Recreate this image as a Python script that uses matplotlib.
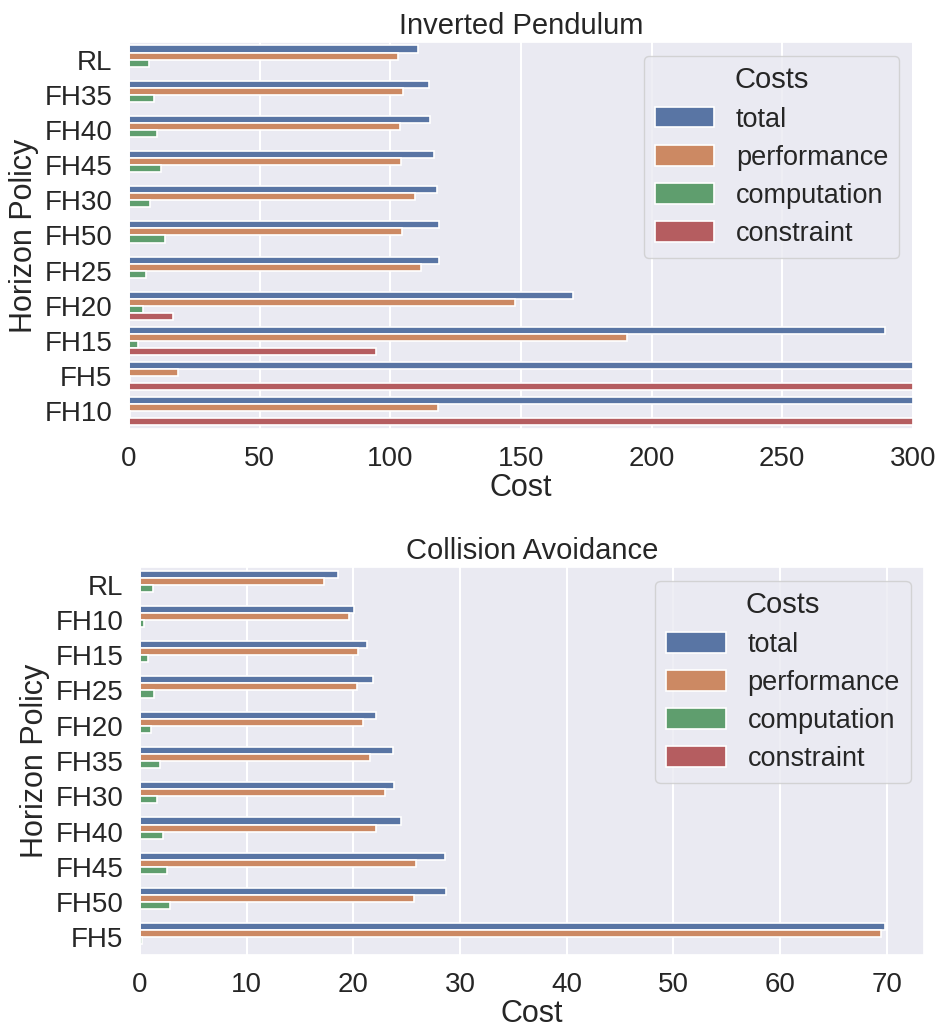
import matplotlib
matplotlib.use("Agg")
import matplotlib.pyplot as plt
import numpy as np
import seaborn as sns

sns.set_theme(style="darkgrid")
plt.rcParams['font.family'] = ['Liberation Sans', 'DejaVu Sans']

cost_types = ["total", "performance", "computation", "constraint"]
colors = ["#5975A4", "#CC8963", "#5F9E6E", "#B55D60"]

# Inverted Pendulum
ip_policies = ["RL", "FH35", "FH40", "FH45", "FH30", "FH50", "FH25", "FH20", "FH15", "FH5", "FH10"]
ip_total = [110.8, 114.7, 115.3, 116.9, 117.9, 118.8, 118.8, 170.1, 289.4, 1200.0, 1200.0]
ip_performance = [102.8, 104.8, 103.8, 104.1, 109.5, 104.6, 111.8, 147.6, 190.5, 18.7, 118.2]
ip_computation = [7.5, 9.5, 10.9, 12.3, 8.1, 13.9, 6.6, 5.2, 3.4, 0.2, 0.3]
ip_constraint = [0.0, 0.0, 0.0, 0.0, 0.0, 0.0, 0.0, 16.7, 94.5, 1100.0, 1100.0]

# Collision Avoidance
ca_policies = ["RL", "FH10", "FH15", "FH25", "FH20", "FH35", "FH30", "FH40", "FH45", "FH50", "FH5"]
ca_total = [18.6, 20.1, 21.3, 21.8, 22.1, 23.7, 23.8, 24.5, 28.6, 28.7, 69.85]
ca_performance = [17.2, 19.55, 20.4, 20.3, 20.9, 21.6, 23.0, 22.1, 25.9, 25.7, 69.5]
ca_computation = [1.24, 0.4, 0.72, 1.31, 1.03, 1.9, 1.59, 2.18, 2.5, 2.8, 0.15]
ca_constraint = [0.0] * 11

fig = plt.figure(figsize=(9.43, 10.31), dpi=100)
ax1 = fig.add_axes([0.1368, 0.5839, 0.968 - 0.1368, 0.9593 - 0.5839])
ax2 = fig.add_axes([0.1485, 0.0737, 0.980 - 0.1485, 0.450 - 0.0737])

def draw(ax, policies, series, title, xlim=None, xticks=None):
    n = len(policies)
    y = np.arange(n)
    h = 0.2
    for i, (name, vals) in enumerate(zip(cost_types, series)):
        ax.barh(y - 0.3 + i * h, vals, height=h, color=colors[i],
                edgecolor="white", linewidth=1.2, label=name)
    ax.set_yticks(y)
    ax.set_yticklabels(policies)
    ax.set_ylim(n - 0.5, -0.5)
    if xlim is not None:
        ax.set_xlim(*xlim)
    if xticks is not None:
        ax.set_xticks(xticks)
    ax.tick_params(axis="both", labelsize=20, pad=6)
    ax.set_title(title, fontsize=21, pad=6)
    ax.set_xlabel("Cost", fontsize=22, labelpad=1)
    ax.set_ylabel("Horizon Policy", fontsize=22, labelpad=4)
    ax.grid(axis="y", visible=False)
    ax.grid(axis="x", color="white", linewidth=1.5)
    ax.legend(title="Costs", fontsize=19.5, title_fontsize=21,
              loc="upper right", handlelength=2.2, handleheight=0.8,
              labelspacing=0.45, borderpad=0.4)

draw(ax1, ip_policies, [ip_total, ip_performance, ip_computation, ip_constraint],
     "Inverted Pendulum", xlim=(0, 300), xticks=[0, 50, 100, 150, 200, 250, 300])
draw(ax2, ca_policies, [ca_total, ca_performance, ca_computation, ca_constraint],
     "Collision Avoidance", xlim=(0, 73.5), xticks=[0, 10, 20, 30, 40, 50, 60, 70])

fig.savefig("out.png", dpi=100)
